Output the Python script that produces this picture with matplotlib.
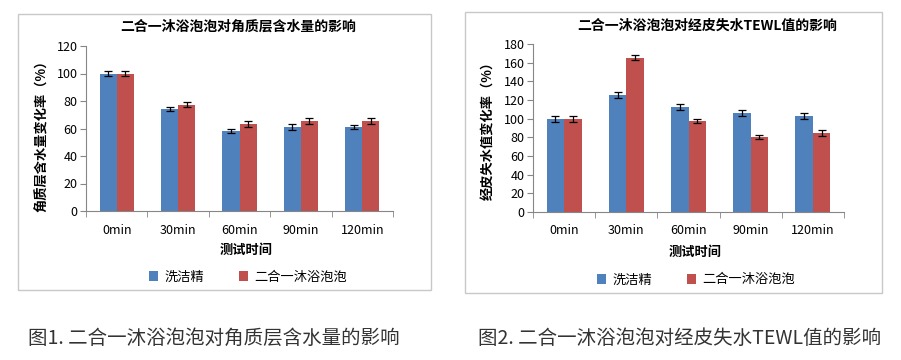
import numpy as np
import matplotlib

matplotlib.use("Agg")
import matplotlib.pyplot as plt
from matplotlib.patches import Rectangle

plt.rcParams["font.family"] = ["Noto Sans CJK SC", "DejaVu Sans"]

# data
categories = ["0min", "30min", "60min", "90min", "120min"]
series_names = ["洗洁精", "二合一沐浴泡泡"]

moisture_a = [100, 74.3, 58.2, 61.2, 61.0]
moisture_b = [100, 77.3, 63.2, 65.4, 65.4]
moisture_a_err = [1.5, 1.6, 1.6, 2.0, 1.6]
moisture_b_err = [1.5, 2.0, 2.3, 2.0, 2.0]

tewl_a = [100, 125.5, 112.5, 106.2, 102.8]
tewl_b = [100, 165.2, 97.6, 80.3, 84.3]
tewl_a_err = [3.2, 3.0, 3.0, 3.0, 3.0]
tewl_b_err = [3.2, 2.5, 2.5, 2.5, 3.2]

_BLUE = "#4f81bd"
_RED = "#c0504d"
_AXIS = "#868686"
_FRAME = "#c8c8c8"
W, H = 901, 360


def fx(px):
    return px / W


def fy(py):
    return 1 - py / H


def draw_panel(fig, rect, a, b, ea, eb, ymax, ystep, title, ylabel,
               title_xy, ylabel_xy, xlabel_xy, legend_xy):
    ax = fig.add_axes(rect)
    x = np.arange(len(categories))
    w = 0.28
    bars_a = ax.bar(x - w / 2, a, w, color=_BLUE, zorder=2)
    bars_b = ax.bar(x + w / 2, b, w, color=_RED, zorder=2)
    ax.errorbar(x - w / 2, a, yerr=ea, fmt="none", ecolor="black",
                elinewidth=0.9, capsize=3, capthick=0.9, zorder=3)
    ax.errorbar(x + w / 2, b, yerr=eb, fmt="none", ecolor="black",
                elinewidth=0.9, capsize=3, capthick=0.9, zorder=3)
    ax.set_xlim(-0.5, len(categories) - 0.5)
    ax.set_ylim(0, ymax)
    ax.set_yticks(np.arange(0, ymax + 1, ystep))
    ax.set_xticks(x)
    ax.set_xticklabels(categories)
    ax.set_xticks(np.arange(-0.5, len(categories)), minor=True)
    ax.tick_params(axis="x", which="major", length=0, pad=9, labelsize=9)
    ax.tick_params(axis="x", which="minor", length=4, color=_AXIS)
    ax.tick_params(axis="y", length=4, color=_AXIS, labelsize=9, pad=2)
    for s in ("top", "right"):
        ax.spines[s].set_visible(False)
    for s in ("left", "bottom"):
        ax.spines[s].set_color(_AXIS)
    ax.set_facecolor("none")

    fig.text(fx(title_xy[0]), fy(title_xy[1]), title, ha="center",
             va="center", fontsize=10, fontweight="bold")
    fig.text(fx(ylabel_xy[0]), fy(ylabel_xy[1]), ylabel, ha="center",
             va="center", rotation=90, fontsize=9.5, fontweight="bold")
    fig.text(fx(xlabel_xy[0]), fy(xlabel_xy[1]), "测试时间", ha="center",
             va="center", fontsize=9.5, fontweight="bold")
    ax.legend([bars_a, bars_b], series_names, loc="center",
              bbox_to_anchor=(fx(legend_xy[0]), fy(legend_xy[1])),
              bbox_transform=fig.transFigure, ncol=2, frameon=False,
              fontsize=9.5, handlelength=0.7, handleheight=0.7,
              handletextpad=0.5, columnspacing=2.6)
    return ax


fig = plt.figure(figsize=(W / 100, H / 100), dpi=100)
fig.patch.set_facecolor("white")

fig.patches.append(Rectangle((fx(18), fy(290)), fx(413), 276 / H,
                             transform=fig.transFigure, fill=False,
                             edgecolor=_FRAME, linewidth=1))
fig.patches.append(Rectangle((fx(465), fy(293)), fx(417), 281 / H,
                             transform=fig.transFigure, fill=False,
                             edgecolor=_FRAME, linewidth=1))

draw_panel(fig, [fx(86), fy(211), fx(307), 165 / H],
           moisture_a, moisture_b, moisture_a_err, moisture_b_err,
           120, 20, "二合一沐浴泡泡对角质层含水量的影响",
           "角质层含水量变化率（%）",
           (238, 27), (42, 133), (246, 250), (248, 277))

draw_panel(fig, [fx(533), fy(212), fx(311), 168 / H],
           tewl_a, tewl_b, tewl_a_err, tewl_b_err,
           180, 20, "二合一沐浴泡泡对经皮失水TEWL值的影响",
           "经皮失水值变化率（%）",
           (707, 26), (488, 127), (695, 252), (696, 280))

fig.text(fx(28), fy(338), "图1. 二合一沐浴泡泡对角质层含水量的影响",
         ha="left", va="center", fontsize=14, color="#333333")
fig.text(fx(478), fy(338), "图2. 二合一沐浴泡泡对经皮失水TEWL值的影响",
         ha="left", va="center", fontsize=14, color="#333333")

fig.savefig("out.png", dpi=100, facecolor=fig.get_facecolor())
plt.close(fig)
